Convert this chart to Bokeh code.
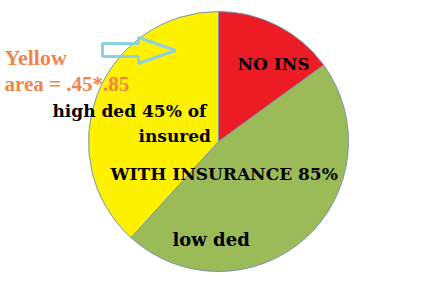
import numpy as np
from bokeh.plotting import figure
from bokeh.models import ColumnDataSource, Range1d
from bokeh.core.properties import value
from bokeh.embed import file_html
from bokeh.resources import INLINE

# Shares of the population
categories = ["NO INS", "low ded", "high ded"]
no_insurance = 0.15
with_insurance = 0.85
high_ded_of_insured = 0.45

fractions = np.array([
    no_insurance,
    with_insurance * (1 - high_ded_of_insured),
    with_insurance * high_ded_of_insured,
])
colors = ["#ED1C24", "#9BBB59", "#FFF200"]

W, H = 430, 282
cx, cy, r = 218, H - 141, 130

# slices run clockwise from 12 o'clock
ends = np.pi / 2 - np.concatenate([[0], np.cumsum(fractions)[:-1]]) * 2 * np.pi
starts = ends - fractions * 2 * np.pi

src = ColumnDataSource(dict(cat=categories, start=starts, end=ends, color=colors,
                            x=[cx] * 3, y=[cy] * 3))

p = figure(width=W, height=H, x_range=Range1d(0, W), y_range=Range1d(0, H),
           output_backend="svg", toolbar_location=None, min_border=0)
p.axis.visible = False
p.grid.visible = False
p.outline_line_color = None
p.background_fill_color = "white"

p.wedge(x="x", y="y", radius=r, start_angle="start", end_angle="end",
        fill_color="color", line_color="#7A95AC", line_width=1, source=src)

# hollow block arrow pointing into the yellow slice
ax = [102, 138, 138, 175, 138, 138, 102]
ay = [43, 43, 37, 50, 63, 56, 56]
p.patch(ax, [H - v for v in ay], fill_color=None, line_color="#8FCFE4", line_width=3)

def label(txt, x, y, size, color="black", font="'DejaVu Serif', serif"):
    p.text(x=[x], y=[H - y], text=[txt], text_font=value(font), text_font_style="bold",
           text_font_size=size, text_color=color, text_baseline="alphabetic",
           text_align="left")

orange_font = "'Liberation Serif', serif"
label("Yellow", 4, 57, "22px", "#EF8648", orange_font)
label("area = .45*.85", 4, 83, "21px", "#EF8648", orange_font)
label("high ded 45% of", 52, 110, "17px")
label("insured", 138, 135, "17px")
label("NO INS", 237, 63, "17px")
label("WITH INSURANCE 85%", 110, 173, "17px")
label("low ded", 172, 239, "18px")

open("out.html", "w").write(file_html(p, INLINE))
